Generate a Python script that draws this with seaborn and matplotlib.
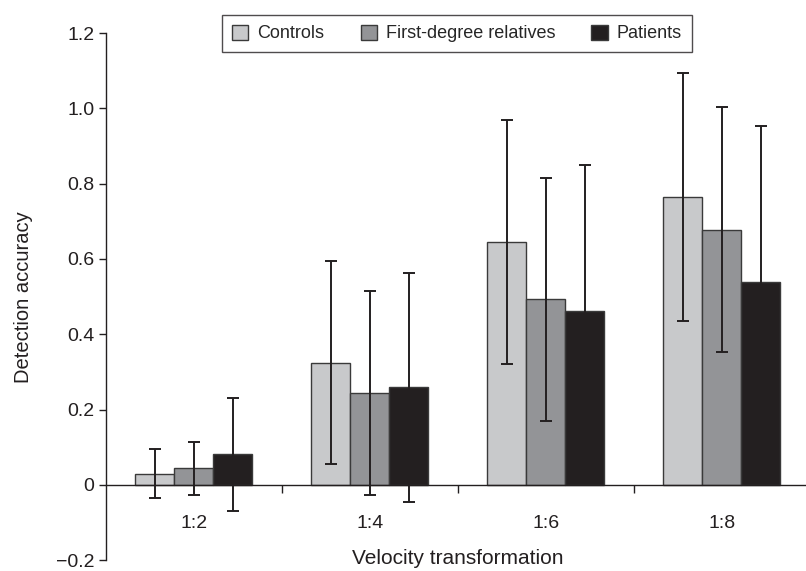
import numpy as np
import pandas as pd
import matplotlib
matplotlib.use("Agg")
import matplotlib.pyplot as plt
import seaborn as sns

# Data
ratios = ["1:2", "1:4", "1:6", "1:8"]
groups = ["Controls", "First-degree relatives", "Patients"]
controls = [0.030, 0.325, 0.645, 0.764]
relatives = [0.044, 0.244, 0.493, 0.678]
patients = [0.081, 0.259, 0.463, 0.540]
controls_err = [0.065, 0.270, 0.323, 0.330]
relatives_err = [0.070, 0.270, 0.323, 0.325]
patients_err = [0.150, 0.305, 0.387, 0.414]
ytick_vals = [-0.2, 0, 0.2, 0.4, 0.6, 0.8, 1.0, 1.2]
ytick_labels = ["\u22120.2", "0", "0.2", "0.4", "0.6", "0.8", "1.0", "1.2"]

colors = ["#c8c9cb", "#939497", "#231f20"]

df = pd.DataFrame({
    "ratio": ratios * 3,
    "group": np.repeat(groups, len(ratios)),
    "accuracy": controls + relatives + patients,
})

sns.set_style("ticks")
plt.rcParams["font.family"] = ["Liberation Sans", "DejaVu Sans"]

fig = plt.figure(figsize=(8.06, 5.71), dpi=100)
ax = fig.add_axes([0.1315, 0.019, 0.8685, 0.923])

sns.barplot(data=df, x="ratio", y="accuracy", hue="group", order=ratios,
            hue_order=groups, palette=colors, width=0.665, errorbar=None,
            edgecolor="#3a3a3a", linewidth=1.0, saturation=1, ax=ax)

# error bars at the bar centres
for cont, errs in zip(ax.containers, [controls_err, relatives_err, patients_err]):
    xs = [p.get_x() + p.get_width() / 2 for p in cont]
    ys = [p.get_height() for p in cont]
    ax.errorbar(xs, ys, yerr=errs, fmt="none", ecolor="#231f20",
                elinewidth=1.4, capsize=4.3, capthick=1.4, zorder=5)

ax.set_ylim(-0.2, 1.2)
ax.set_xlim(-0.5, 3.48)
ax.set_yticks(ytick_vals)
ax.set_yticklabels(ytick_labels, fontsize=14)
ax.tick_params(axis="y", direction="out", length=5, width=1, colors="#231f20")

ax.spines["bottom"].set_position(("data", 0))
ax.spines["right"].set_visible(False)
ax.spines["top"].set_visible(False)
for s in ["left", "bottom"]:
    ax.spines[s].set_color("#231f20")
    ax.spines[s].set_linewidth(1.0)

ax.tick_params(axis="x", which="major", length=0, pad=22, labelsize=14,
               labelcolor="#231f20")
ax.set_xticks([0.5, 1.5, 2.5], minor=True)
ax.tick_params(axis="x", which="minor", direction="out", length=5.5, width=1,
               color="#231f20")

ax.set_ylabel("Detection accuracy", fontsize=14.5, labelpad=16, color="#231f20")
ax.set_xlabel("Velocity transformation", fontsize=15, color="#231f20")
ax.xaxis.set_label_coords(0.503, 0.022)

sns.move_legend(ax, "upper center", bbox_to_anchor=(0.567, 0.974),
                bbox_transform=fig.transFigure, ncol=3, title=None,
                frameon=True, fancybox=False, fontsize=13, handlelength=0.9,
                handleheight=0.9, columnspacing=2.0, handletextpad=0.5,
                borderpad=0.55, borderaxespad=0, edgecolor="#231f20")
ax.get_legend().get_frame().set_linewidth(1.0)

fig.savefig("out.png", dpi=100)
